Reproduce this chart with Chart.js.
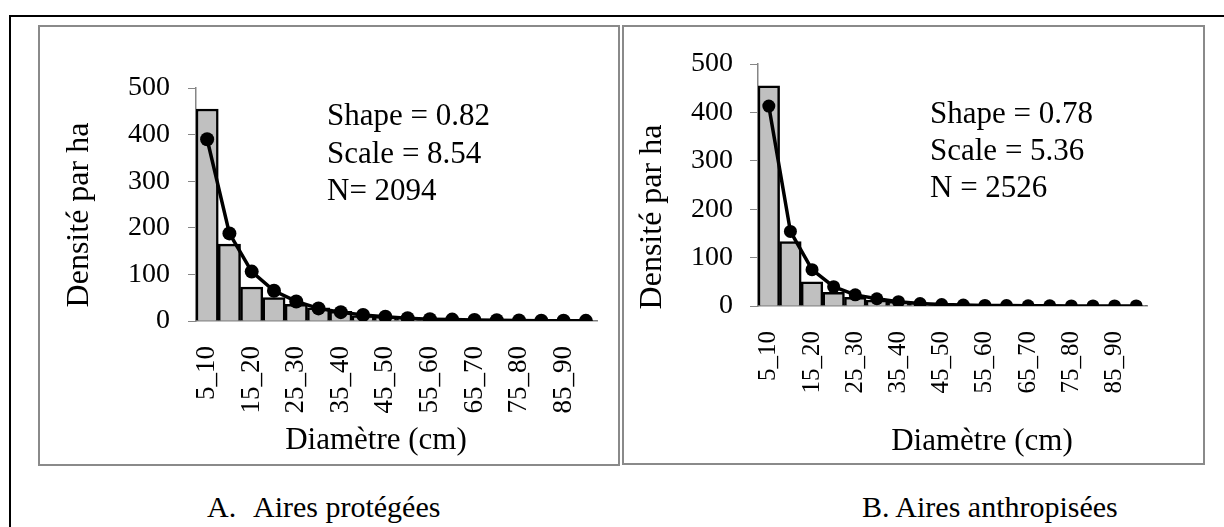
<!DOCTYPE html>
<html>
<head>
<meta charset="utf-8">
<script src="https://cdn.jsdelivr.net/npm/chart.js@4"></script>
<style>
  html, body { margin: 0; padding: 0; background: #fff; }
  body { width: 1224px; height: 527px; position: relative; overflow: hidden; font-family: 'Liberation Serif', 'Times New Roman', serif; }
  #frame { position: absolute; left: 9px; top: 15px; width: 1240px; height: 560px; border: 2px solid #000; box-sizing: border-box; }
  .panel { position: absolute; border: 2px solid #8a8a8a; box-sizing: border-box; }
  .panel canvas { position: absolute; left: 0; top: 0; }
  .caption { position: absolute; top: 492px; font-size: 30px; line-height: 30px; white-space: pre; color: #000; }
</style>
</head>
<body>
<div id="frame"></div>
<div class="panel" style="left:38px; top:25px; width:582px; height:441px;">
  <canvas id="chartA" width="578" height="437"></canvas>
</div>
<div class="panel" style="left:622px; top:25px; width:583px; height:440px;">
  <canvas id="chartB" width="579" height="436"></canvas>
</div>
<div class="caption" style="left:207px;">A.</div>
<div class="caption" style="left:253px;">Aires protégées</div>
<div class="caption" style="left:862px;">B. Aires anthropisées</div>

<script>
  // classes de diamètre (cm)
  const classes = ['5_10', '10_15', '15_20', '20_25', '25_30', '30_35', '35_40', '40_45', '45_50',
    '50_55', '55_60', '60_65', '65_70', '70_75', '75_80', '80_85', '85_90', '90_95'];
  const yTicks = [0, 100, 200, 300, 400, 500];

  // A. aires protégées : densité observée et ajustement Weibull
  const densiteA = [455, 165, 73, 50, 36, 28, 21, 11, 8, 6, 5, 4, 3, 2, 2, 1, 1, 1];
  const weibullA = [390, 188, 106, 65, 42, 27, 19, 13, 9, 6, 4, 3, 2, 1.5, 1, 0.7, 0.5, 0.3];
  const statsA = ['Shape = 0.82', 'Scale = 8.54', 'N= 2094'];

  // B. aires anthropisées
  const densiteB = [455, 133, 50, 28, 18, 12, 8, 5, 3, 2, 2, 1, 1, 1, 0.5, 0.5, 0.5, 0.5];
  const weibullB = [413, 154, 75, 40, 23, 15, 9, 5, 3, 2, 1.2, 0.8, 0.5, 0.3, 0.2, 0.1, 0.1, 0.1];
  const statsB = ['Shape = 0.78', 'Scale = 5.36', 'N = 2526'];

  const serif = "'Liberation Serif', 'Times New Roman', serif";
  const axisGrey = '#868686';

  // texte libre : stats, titres des axes
  function notes(cfg) {
    return {
      id: 'notes',
      afterDraw(chart) {
        const ctx = chart.ctx;
        ctx.save();
        ctx.fillStyle = '#000';
        ctx.textBaseline = 'alphabetic';
        ctx.font = '31px ' + serif;
        ctx.textAlign = 'left';
        cfg.lines.forEach((t, i) => ctx.fillText(t, cfg.x, cfg.y + i * cfg.step));
        ctx.textAlign = 'center';
        ctx.fillText('Diamètre (cm)', cfg.xtX, cfg.xtY);
        ctx.translate(cfg.ytX, cfg.ytY);
        ctx.rotate(-Math.PI / 2);
        ctx.textBaseline = 'middle';
        ctx.font = '32px ' + serif;
        ctx.fillText('Densité par ha', 0, 0);
        ctx.restore();
      }
    };
  }

  function makeChart(id, obs, fit, lay) {
    return new Chart(document.getElementById(id), {
      data: {
        labels: classes,
        datasets: [
          {
            type: 'line',
            data: fit,
            borderColor: '#000',
            backgroundColor: '#000',
            borderWidth: 3.5,
            pointRadius: lay.dot,
            pointBackgroundColor: '#000',
            pointBorderWidth: 0,
            tension: 0,
            order: 0
          },
          {
            type: 'bar',
            data: obs,
            backgroundColor: '#c0c0c0',
            borderColor: '#000',
            borderWidth: 2.5,
            categoryPercentage: 1,
            barPercentage: 1,
            order: 1
          }
        ]
      },
      options: {
        responsive: false,
        animation: false,
        layout: { padding: { left: 0, right: lay.padR, top: lay.padT, bottom: 0 } },
        plugins: { legend: { display: false }, tooltip: { enabled: false } },
        scales: {
          x: {
            grid: { display: false },
            border: { display: true, color: axisGrey, width: 1.5 },
            afterFit: (s) => {
              s.height = lay.xH;
              s.paddingLeft = 0;
              s.paddingRight = 0;
            },
            ticks: {
              autoSkip: false,
              minRotation: 90,
              maxRotation: 90,
              padding: lay.xPad,
              color: '#000',
              font: { family: serif, size: lay.xFont },
              callback: (v, i) => (i % 2 === 0 ? classes[i] : '')
            }
          },
          y: {
            min: 0,
            max: 500,
            afterFit: (s) => { s.width = lay.yW; },
            afterBuildTicks: (s) => { s.ticks = yTicks.map(v => ({ value: v })); },
            grid: { drawOnChartArea: false, drawTicks: true, tickLength: 8, color: axisGrey },
            border: { color: axisGrey, width: 1.5 },
            ticks: { padding: lay.yPad, color: '#000', font: { family: serif, size: 28 } }
          }
        }
      },
      plugins: [notes(lay.notes)]
    });
  }

  makeChart('chartA', densiteA, weibullA, {
    padR: 21, padT: 61, xH: 143, yW: 156, xPad: 17, xFont: 27, yPad: 18, dot: 7,
    notes: { lines: statsA, x: 287, y: 98, step: 37.5, xtX: 336, xtY: 422, ytX: 40, ytY: 188 }
  });

  makeChart('chartB', densiteB, weibullB, {
    padR: 56, padT: 37, xH: 157, yW: 134, xPad: 17, xFont: 25, yPad: 17, dot: 6.5,
    notes: { lines: statsB, x: 306, y: 96, step: 37, xtX: 358, xtY: 423, ytX: 29, ytY: 190 }
  });
</script>
</body>
</html>
